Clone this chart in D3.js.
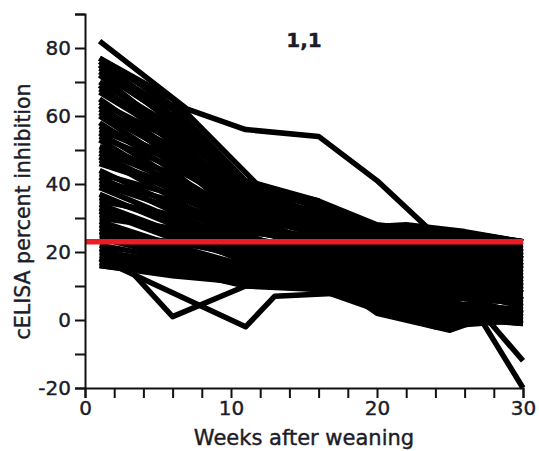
<!DOCTYPE html>
<html>
<head>
<meta charset="utf-8">
<script src="https://cdn.jsdelivr.net/npm/d3@7"></script>
<style>
  body { margin: 0; background: #fff; }
  text { font-family: "DejaVu Sans", Verdana, sans-serif; fill: #1c1c28; stroke: #1c1c28; stroke-width: 0.4px; }
</style>
</head>
<body>
<div id="wrapper"></div>
<script>
// sampling weeks shared by most animals
const weeks = [1, 6, 11, 16, 20, 24, 27, 30];

// cELISA % inhibition per animal, one row per animal, columns = weeks
const herd = [
  [77, 63, 41, 35, 28, 26, 25, 23],
  [76, 60, 40, 33, 26, 24, 22, 20],
  [75, 58, 36, 30, 24, 22, 21, 19],
  [74, 62, 38, 34, 27, 25, 23, 22],
  [73, 59, 37, 31, 26, 24, 23, 22],
  [72, 55, 34, 28, 20, 18, 17, 15],
  [70, 57, 39, 31, 25, 26, 24, 23],
  [69, 52, 30, 26, 22, 20, 19, 16],
  [68, 56, 38, 30, 24, 23, 22, 20],
  [67, 54, 36, 32, 27, 23, 22, 21],
  [65, 50, 33, 29, 18, 15, 14, 12],
  [64, 53, 34, 30, 25, 24, 22, 21],
  [63, 48, 28, 24, 21, 19, 20, 18],
  [62, 51, 35, 27, 23, 21, 18, 17],
  [61, 49, 32, 27, 20, 18, 19, 17],
  [60, 46, 31, 25, 16, 12, 13, 10],
  [58, 44, 26, 23, 19, 17, 16, 14],
  [57, 48, 35, 29, 22, 21, 20, 18],
  [56, 47, 32, 28, 24, 20, 21, 19],
  [55, 42, 29, 22, 14, 10, 11, 8],
  [54, 45, 33, 25, 19, 16, 15, 14],
  [53, 40, 24, 20, 17, 15, 12, 11],
  [51, 43, 30, 26, 21, 18, 17, 15],
  [50, 41, 29, 27, 23, 19, 18, 16],
  [49, 38, 27, 21, 12, 8, 9, 6],
  [48, 36, 22, 19, 15, 13, 14, 12],
  [47, 40, 31, 22, 17, 13, 12, 9],
  [46, 39, 28, 24, 20, 22, 20, 18],
  [44, 34, 25, 18, 10, 6, 7, 4],
  [43, 37, 27, 24, 19, 17, 16, 15],
  [42, 32, 21, 17, 13, 11, 10, 9],
  [41, 35, 26, 23, 18, 16, 15, 13],
  [40, 33, 24, 21, 15, 11, 10, 8],
  [39, 30, 20, 16, 8, 4, 5, 2],
  [37, 28, 19, 15, 11, 9, 8, 7],
  [36, 29, 22, 18, 12, 9, 8, 6],
  [35, 31, 23, 20, 16, 14, 13, 11],
  [34, 26, 17, 14, 6, 2, 3, 1],
  [32, 24, 18, 13, 9, 7, 6, 5],
  [31, 26, 20, 16, 11, 5, 4, 3],
  [30, 27, 21, 19, 14, 12, 11, 10],
  [29, 22, 15, 12, 4, 0, 1, 0],
  [27, 21, 16, 14, 10, 8, 7, 6],
  [26, 20, 15, 12, 7, 3, 3, 2],
  [25, 23, 19, 17, 12, 10, 9, 8],
  [24, 19, 13, 11, 5, 1, 2, 1],
  [22, 18, 14, 13, 8, 5, 4, 3],
  [21, 15, 12, 11, 4, 0, 1, 1],
  [20, 17, 12, 12, 7, 3, 2, 2],
  [19, 16, 13, 10, 6, 2, 1, 0],
  [18, 15, 10, 9, 3, -2, -1, 0],
  [17, 14, 11, 10, 3, -1, 0, -1],
  [16, 13, 11, 9, 5, 1, 0, 0],
  [28, 22, 16, 13, 9, 6, 1, -20],
  [33, 25, 18, 15, 10, 7, 3, -12]
];

// animals sampled on other weeks
const topWeeks = [1, 7, 11, 16, 20, 24, 27, 30];
const topValues = [82, 62, 56, 54, 41, 25, 25, 23];
const secondWeeks = [1, 6, 12, 16, 18, 22, 26, 30];
const secondValues = [77, 65, 39, 35, 27, 28, 26, 23];
const dipAWeeks = [1, 3, 6, 11, 16, 20, 24, 27, 30];
const dipAValues = [16, 15, 1, 10, 11, 9, 7, 6, 5];
const dipBWeeks = [1, 5, 11, 13, 18, 20, 25, 27, 30];
const dipBValues = [18, 10, -2, 7, 8, 2, -3, 0, -1];

// cut-off line
const cutoff = 23;
const cutoffWeeks = [0, 30];

const xTicks = d3.range(0, 31, 2);
const xLabels = [0, 10, 20, 30];
const yTicks = d3.range(-20, 91, 10);
const yLabels = [-20, 0, 20, 40, 60, 80];

const dimension = {
    width: 539,
    height: 451,
    margin: { top: 14, left: 85, bottom: 63, right: 16 }
};
dimension.boundedWidth = dimension.width - dimension.margin.left - dimension.margin.right;
dimension.boundedHeight = dimension.height - dimension.margin.top - dimension.margin.bottom;

const svg = d3.select("#wrapper").append("svg")
    .attr("width", dimension.width)
    .attr("height", dimension.height);

const xScaler = d3.scaleLinear()
    .domain([0, 30])
    .range([dimension.margin.left, dimension.margin.left + dimension.boundedWidth]);
const yScaler = d3.scaleLinear()
    .domain([-20, 90])
    .range([dimension.margin.top + dimension.boundedHeight, dimension.margin.top]);

const line = d3.line()
    .x(d => xScaler(d[0]))
    .y(d => yScaler(d[1]));

const series = herd.map(row => weeks.map((w, i) => [w, row[i]]));
series.push(topWeeks.map((w, i) => [w, topValues[i]]));
series.push(secondWeeks.map((w, i) => [w, secondValues[i]]));
series.push(dipAWeeks.map((w, i) => [w, dipAValues[i]]));
series.push(dipBWeeks.map((w, i) => [w, dipBValues[i]]));

svg.append("g")
    .selectAll("path")
    .data(series)
    .join("path")
    .attr("d", line)
    .attr("fill", "none")
    .attr("stroke", "#000")
    .attr("stroke-width", 5.5)
    .attr("stroke-linejoin", "round");

svg.append("path")
    .datum(cutoffWeeks.map(w => [w, cutoff]))
    .attr("d", line)
    .attr("fill", "none")
    .attr("stroke", "#ec1c24")
    .attr("stroke-width", 5.5);

// axes
const yAxisGenerator = d3.axisLeft(yScaler)
    .tickValues(yTicks)
    .tickSize(10)
    .tickPadding(4)
    .tickFormat(d => yLabels.includes(d) ? d : "");
const xAxisGenerator = d3.axisBottom(xScaler)
    .tickValues(xTicks)
    .tickSize(10)
    .tickPadding(3)
    .tickFormat(d => xLabels.includes(d) ? d : "");

const yAxis = svg.append("g")
    .attr("transform", `translate(${dimension.margin.left},0)`)
    .call(yAxisGenerator);
const xAxis = svg.append("g")
    .attr("transform", `translate(0,${dimension.margin.top + dimension.boundedHeight})`)
    .call(xAxisGenerator);

[xAxis, yAxis].forEach(ax => {
    ax.select(".domain").attr("stroke", "#111").attr("stroke-width", 2);
    ax.selectAll(".tick line").attr("stroke", "#111").attr("stroke-width", 2);
    ax.selectAll(".tick text")
        .style("font-family", "DejaVu Sans, sans-serif")
        .style("font-size", "20px")
        .attr("fill", "#1c1c28");
});

svg.append("text")
    .attr("x", xScaler(15))
    .attr("y", 445)
    .attr("text-anchor", "middle")
    .style("font-size", "21px")
    .text("Weeks after weaning");

svg.append("text")
    .attr("transform", `translate(30,${(83 + 340) / 2}) rotate(-90)`)
    .attr("text-anchor", "middle")
    .style("font-size", "20.5px")
    .text("cELISA percent inhibition");

svg.append("text")
    .attr("x", 304)
    .attr("y", 47)
    .attr("text-anchor", "middle")
    .style("font-size", "20px")
    .style("font-weight", "bold")
    .text("1,1");
</script>
</body>
</html>
